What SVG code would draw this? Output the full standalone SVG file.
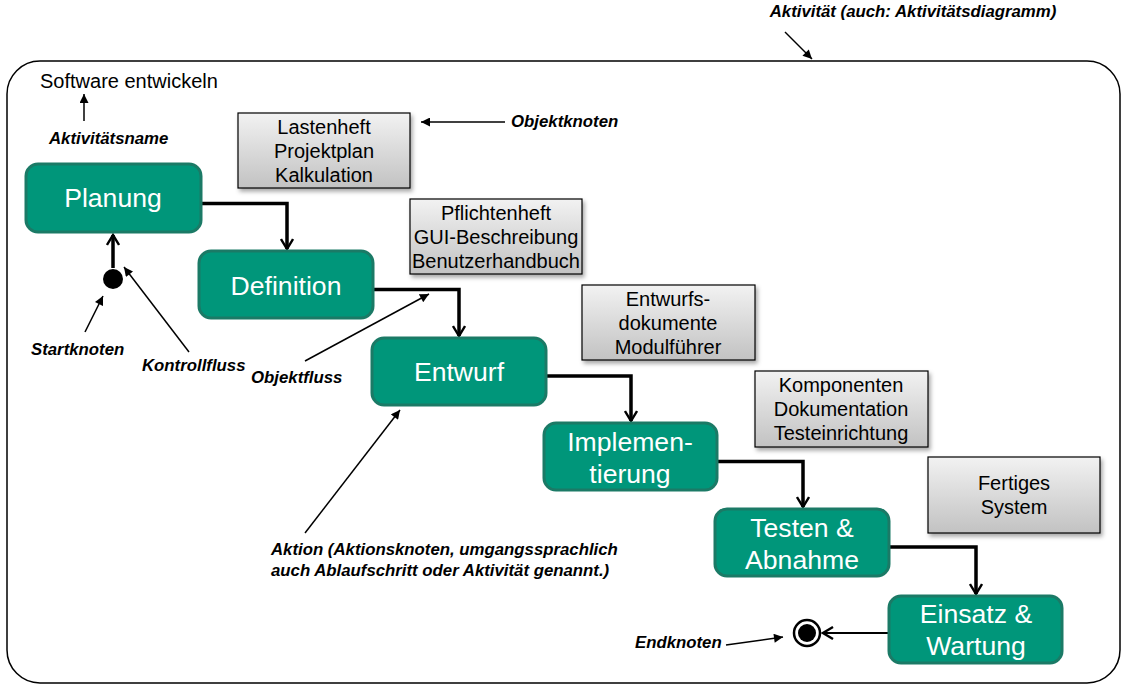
<svg xmlns="http://www.w3.org/2000/svg" width="1131" height="697" viewBox="0 0 1131 697">
<defs>
<linearGradient id="gray" x1="0" y1="0" x2="0" y2="1">
<stop offset="0" stop-color="#f2f2f2"/>
<stop offset="1" stop-color="#c2c2c2"/>
</linearGradient>
<filter id="sh" x="-10%" y="-10%" width="120%" height="130%">
<feDropShadow dx="2" dy="3" stdDeviation="2" flood-color="#000" flood-opacity="0.35"/>
</filter>
<marker id="open" viewBox="0 0 14 14" refX="12" refY="7" markerWidth="14" markerHeight="14" markerUnits="userSpaceOnUse" orient="auto">
<path d="M2,1 L12,7 L2,13" fill="none" stroke="#000" stroke-width="2.4"/>
</marker>
<marker id="tri" viewBox="0 0 10 10" refX="10" refY="5" markerWidth="10" markerHeight="9" markerUnits="userSpaceOnUse" orient="auto">
<path d="M0,0 L10,5 L0,10 Z" fill="#000"/>
</marker>
</defs>
<style>
.node rect{fill:#00967a;stroke:#1b7a66;stroke-width:3}
.node text{fill:#fff;font-family:"Liberation Sans",Arial,sans-serif;font-size:26.6px;text-anchor:middle}
.obj rect{fill:url(#gray);stroke:#000;stroke-width:1.2;filter:url(#sh)}
.obj text{fill:#000;font-family:"Liberation Sans",Arial,sans-serif;font-size:20px;text-anchor:middle}
.flow{fill:none;stroke:#000;stroke-width:3.5;marker-end:url(#open)}
.ann{fill:none;stroke:#000;stroke-width:1.5;marker-end:url(#tri)}
.lbl{font-family:"Liberation Sans",Arial,sans-serif;font-size:16.8px;font-weight:bold;font-style:italic;fill:#000}
</style>
<rect width="1131" height="697" fill="#fff"/>
<g id="frame">
<rect x="7" y="61" width="1113" height="622" rx="33" ry="33" fill="none" stroke="#000" stroke-width="1.5"/>
<text x="40" y="88" font-family="Liberation Sans,Arial,sans-serif" font-size="20" fill="#000">Software entwickeln</text>
</g>
<g id="connectors">
<path class="flow" d="M201,203.5 H287 V249"/>
<path class="flow" d="M373,289.5 H459 V336"/>
<path class="flow" d="M546,376 H631 V421"/>
<path class="flow" d="M717,461.5 H803 V507"/>
<path class="flow" d="M890,547 H976 V594"/>
<path class="flow" style="stroke-width:2.2" d="M888,633 H823"/>
<path class="flow" d="M113,268 V235"/>
<path class="ann" d="M84,121 V94"/>
<path class="ann" d="M785,32 L812,59"/>
<path class="ann" d="M505,122 H421"/>
<path class="ann" d="M85,332 L103,296"/>
<path class="ann" d="M189,352 L124,267"/>
<path class="ann" d="M305,361 L429,294"/>
<path class="ann" d="M305,533 L400,410"/>
<path class="ann" d="M726,645 L783,637"/>
</g>
<g id="start"><circle cx="113" cy="279" r="10" fill="#000"/></g>
<g id="end"><circle cx="807" cy="633" r="13" fill="#fff" stroke="#000" stroke-width="2.5"/><circle cx="807" cy="633" r="9" fill="#000"/></g>
<g id="planung" class="node"><rect x="26" y="164" width="175" height="68" rx="12"/><text x="113" y="207">Planung</text></g>
<g id="definition" class="node"><rect x="199" y="251" width="174" height="67" rx="12"/><text x="286" y="295">Definition</text></g>
<g id="entwurf" class="node"><rect x="372" y="338" width="174" height="67" rx="12"/><text x="459" y="381">Entwurf</text></g>
<g id="implementierung" class="node"><rect x="544" y="423" width="173" height="67" rx="12"/><text x="630" y="451">Implemen-</text><text x="630" y="483">tierung</text></g>
<g id="testen" class="node"><rect x="715" y="509" width="174" height="67" rx="12"/><text x="802" y="537">Testen &amp;</text><text x="802" y="569">Abnahme</text></g>
<g id="einsatz" class="node"><rect x="889" y="596" width="173" height="67" rx="12"/><text x="976" y="623">Einsatz &amp;</text><text x="976" y="655">Wartung</text></g>
<g id="obj1" class="obj"><rect x="238" y="113" width="172" height="75"/><text x="324" y="134">Lastenheft</text><text x="324" y="158">Projektplan</text><text x="324" y="182">Kalkulation</text></g>
<g id="obj2" class="obj"><rect x="410" y="199" width="172" height="75"/><text x="496" y="220">Pflichtenheft</text><text x="496" y="244">GUI-Beschreibung</text><text x="496" y="268">Benutzerhandbuch</text></g>
<g id="obj3" class="obj"><rect x="582" y="285" width="173" height="75"/><text x="668" y="306">Entwurfs-</text><text x="668" y="330">dokumente</text><text x="668" y="354">Modulführer</text></g>
<g id="obj4" class="obj"><rect x="755" y="371" width="173" height="76"/><text x="841" y="392">Komponenten</text><text x="841" y="416">Dokumentation</text><text x="841" y="440">Testeinrichtung</text></g>
<g id="obj5" class="obj"><rect x="928" y="457" width="172" height="76"/><text x="1014" y="490">Fertiges</text><text x="1014" y="514">System</text></g>
<g id="labels">
<text class="lbl" x="913" y="17" text-anchor="middle">Aktivität (auch: Aktivitätsdiagramm)</text>
<text class="lbl" x="49" y="144">Aktivitätsname</text>
<text class="lbl" x="511" y="127">Objektknoten</text>
<text class="lbl" x="31" y="355">Startknoten</text>
<text class="lbl" x="142" y="371">Kontrollfluss</text>
<text class="lbl" x="251" y="383">Objektfluss</text>
<text class="lbl" x="271" y="555">Aktion (Aktionsknoten, umgangssprachlich</text>
<text class="lbl" x="271" y="576">auch Ablaufschritt oder Aktivität genannt.)</text>
<text class="lbl" x="635" y="648">Endknoten</text>
</g>
</svg>
